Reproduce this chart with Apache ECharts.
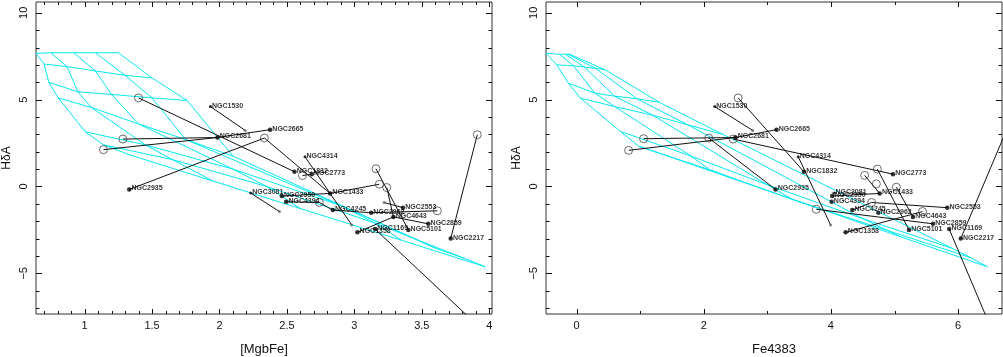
<!DOCTYPE html>
<html><head><meta charset="utf-8">
<script src="https://cdn.jsdelivr.net/npm/echarts@6/dist/echarts.min.js"></script>
<style>html,body{margin:0;padding:0;background:#fff}#c{width:1003px;height:357px}</style>
</head><body><div id="c"></div>
<script>
// ---------------- DATA ----------------
const galaxyNames  = ['NGC1530','NGC2665','NGC2681','NGC2935','NGC4314','NGC1832','NGC2773','NGC3081','NGC2950','NGC4394','NGC1433','NGC4245','NGC2962','NGC2553','NGC4643','NGC2859','NGC1169','NGC5101','NGC1358','NGC2217'];
const galaxyMgbFe  = [1.933, 2.375, 1.985, 1.331, 2.634, 2.556, 2.684, 2.232, 2.462, 2.494, 2.82, 2.84, 3.124, 3.36, 3.289, 3.548, 3.153, 3.40, 3.022, 3.714];
const galaxyFe4383 = [2.173, 3.145, 2.499, 3.129, 3.486, 3.575, 4.976, 4.047, 4.02, 4.011, 4.766, 4.336, 4.745, 5.83, 5.29, 5.606, 5.86, 5.228, 4.231, 6.042];
const galaxyHdA    = [4.6, 3.27, 2.82, -0.17, 1.71, 0.85, 0.71, -0.38, -0.55, -0.88, -0.40, -1.36, -1.51, -1.22, -1.75, -2.15, -2.45, -2.5, -2.64, -3.0];
const smallGalaxies = ['NGC1530','NGC4314','NGC3081'];

// open circles and small end points [x, HdA]
const circlesLeft  = [[1.40,5.10],[1.284,2.73],[1.14,2.12],[2.333,2.79],[2.615,0.63],[2.74,-0.92],[3.16,1.02],[3.185,0.13],[3.24,-0.06],[3.615,-1.40],[3.911,2.98]];
const smallLeft    = [[2.19,3.23],[2.98,-2.21],[2.444,-1.44],[3.22,-0.92]];
const circlesRight = [[2.541,5.1],[1.055,2.75],[0.819,2.08],[2.079,2.79],[2.462,2.73],[4.73,1.0],[4.53,0.64],[4.714,0.15],[5.029,-0.04],[3.769,-1.31],[4.64,-0.92],[5.44,-1.44]];
const smallRight   = [[2.77,3.23],[3.995,-2.21]];

// connecting segments [x1, y1, x2, y2]
const segmentsLeft = [
  [1.933,4.6, 2.19,3.23],[1.284,2.73, 1.985,2.82],[1.985,2.82, 2.375,3.27],[1.14,2.12, 1.985,2.82],
  [1.40,5.10, 2.556,0.85],[1.331,-0.17, 2.333,2.79],[2.333,2.79, 2.82,-0.40],[2.634,1.71, 2.98,-2.21],
  [2.232,-0.38, 2.444,-1.44],[2.462,-0.55, 2.82,-0.40],[2.82,-0.40, 3.185,0.13],[2.494,-0.88, 2.74,-0.92],
  [2.74,-0.92, 2.84,-1.36],[2.84,-1.36, 3.124,-1.51],[3.124,-1.51, 3.615,-1.40],[3.16,1.02, 3.40,-2.5],
  [3.24,-0.06, 3.289,-1.75],[3.022,-2.64, 3.289,-1.75],[3.289,-1.75, 3.548,-2.15],[3.153,-2.45, 3.9,-7.9],
  [3.714,-3.0, 3.911,2.98],[3.22,-0.92, 3.36,-1.22],[2.684,0.71, 2.615,0.63]
];
const segmentsRight = [
  [2.173,4.6, 2.77,3.23],[1.055,2.75, 2.499,2.82],[2.499,2.82, 3.145,3.27],[0.819,2.08, 2.499,2.82],
  [2.541,5.1, 3.575,0.85],[3.129,-0.17, 2.079,2.79],[2.462,2.73, 4.976,0.71],[3.486,1.71, 3.995,-2.21],
  [4.73,1.0, 5.228,-2.5],[4.53,0.64, 4.766,-0.40],[5.029,-0.04, 5.29,-1.75],[3.769,-1.31, 5.606,-2.15],
  [4.336,-1.36, 4.64,-0.92],[4.64,-0.92, 5.83,-1.22],[4.231,-2.64, 5.44,-1.44],[5.86,-2.45, 6.5,-8.0],
  [6.042,-3.0, 6.73,2.98],[4.02,-0.55, 4.766,-0.40]
];

// model grid: rows (age) x columns (metallicity)
const gridMgbFe = [
  [0.64, 0.75, 0.92, 1.08, 1.25],
  [0.70, 0.87, 1.08, 1.30, 1.50],
  [0.735,0.95, 1.20, 1.50, 1.76],
  [0.805,1.05, 1.40, 1.75, 2.10],
  [1.005,1.45, 2.10, 2.90, 3.60],
  [1.14, 1.65, 2.35, 3.15, 3.82],
  [1.33, 1.95, 2.60, 3.35, 3.97]
];
const gridHdALeft = [
  [7.66, 7.70, 7.70, 7.70, 7.70],
  [7.05, 6.90, 6.65, 6.40, 6.25],
  [6.00, 5.45, 5.30, 5.10, 4.95],
  [5.10, 4.55, 3.60, 2.70, 1.75],
  [3.15, 2.40, 1.00, -1.10, -3.55],
  [2.40, 1.55, 0.00, -2.10, -4.15],
  [1.83, 0.32, -1.27, -3.10, -4.62]
];
const gridFe4383 = [
  [-0.48, -0.26, -0.18, -0.14, -0.10],
  [-0.31, -0.05, 0.12, 0.30, 0.45],
  [-0.13, 0.29, 0.60, 0.95, 1.30],
  [0.06, 0.60, 1.20, 1.75, 2.30],
  [0.69, 1.80, 3.00, 4.50, 5.90],
  [0.98, 2.10, 3.40, 4.90, 6.20],
  [1.37, 2.50, 3.80, 5.10, 6.46]
];
const gridHdARight = [
  [7.68, 7.60, 7.62, 7.62, 7.60],
  [7.00, 6.95, 6.88, 6.80, 6.72],
  [5.95, 5.37, 5.20, 5.05, 4.85],
  [5.09, 4.60, 4.10, 3.55, 3.00],
  [3.17, 1.75, 0.10, -1.85, -3.55],
  [2.31, 0.95, -0.75, -2.55, -4.10],
  [1.83, 0.40, -1.25, -2.90, -4.62]
];

const yTicks = [-5, 0, 5, 10];
const xTicksLeft = [1, 1.5, 2, 2.5, 3, 3.5, 4];
const xTicksRight = [0, 2, 4, 6];

// ---------------- CHART ----------------
const CYAN = '#08e8f0';
const FONT = 'Liberation Sans, Arial, sans-serif';
const minus = v => (v < 0 ? '\u2212' + Math.abs(v) : String(v));
function range(a, b, s) { const r = []; for (let v = a; v <= b + 1e-9; v += s) r.push(Math.round(v * 100) / 100); return r; }
const yMinor = range(-7, 10, 1).filter(v => v % 5 !== 0);
const xMinorLeft = range(0.7, 4.0, 0.1).filter(v => Math.abs(v * 2 - Math.round(v * 2)) > 1e-6);
const xMinorRight = [1, 3, 5];

const rects = [
  { left: 36, top: 2, width: 456, height: 312 },
  { left: 546, top: 2, width: 456, height: 312 }
];
const xRanges = [[0.64, 4.02], [-0.48, 6.69]];
const yRange = [-7.34, 10.62];
const xNames = ['[MgbFe]', 'Fe4383'];
const xMajors = [xTicksLeft, xTicksRight];
const xMinors = [xMinorLeft, xMinorRight];

const xAxes = [], yAxes = [];
for (let g = 0; g < 2; g++) {
  xAxes.push({
    type: 'value', gridIndex: g, min: xRanges[g][0], max: xRanges[g][1], position: 'bottom',
    splitLine: { show: false }, axisLine: { show: false, onZero: false }, axisTick: { show: false },
    name: xNames[g], nameLocation: 'middle', nameGap: 29,
    nameTextStyle: { fontSize: 13, color: '#111', fontFamily: FONT },
    axisLabel: { show: true, customValues: xMajors[g], margin: 6, fontSize: 11, color: '#111', fontFamily: FONT, formatter: minus }
  });
  yAxes.push({
    type: 'value', gridIndex: g, min: yRange[0], max: yRange[1], position: 'left',
    splitLine: { show: false }, axisLine: { show: false, onZero: false }, axisTick: { show: false },
    name: 'H\u03b4A', nameLocation: 'middle', nameGap: 23, nameRotate: 90,
    nameTextStyle: { fontSize: 12, color: '#111', fontFamily: FONT },
    axisLabel: { show: true, customValues: yTicks, rotate: 90, margin: 7, fontSize: 11, color: '#111', fontFamily: FONT, formatter: minus }
  });
}

const series = [];
function lineSeries(g, pts, color, width) {
  series.push({ type: 'line', xAxisIndex: g, yAxisIndex: g, data: pts, symbol: 'none', silent: true,
    lineStyle: { color: color, width: width }, clip: true, animation: false, z: color === CYAN ? 1 : 3 });
}
function meshSeries(g, X, Y) {
  const R = X.length, C = X[0].length;
  for (let r = 0; r < R; r++) lineSeries(g, X[r].map((x, c) => [x, Y[r][c]]), CYAN, 1);
  for (let c = 0; c < C; c++) lineSeries(g, X.map((row, r) => [row[c], Y[r][c]]), CYAN, 1);
}
meshSeries(0, gridMgbFe, gridHdALeft);
meshSeries(1, gridFe4383, gridHdARight);
segmentsLeft.forEach(s => lineSeries(0, [[s[0], s[1]], [s[2], s[3]]], '#111', 1));
segmentsRight.forEach(s => lineSeries(1, [[s[0], s[1]], [s[2], s[3]]], '#111', 1));

function scatter(g, pts, opts) {
  series.push(Object.assign({ type: 'scatter', xAxisIndex: g, yAxisIndex: g, data: pts, animation: false, silent: true, clip: true, z: 4 }, opts));
}
scatter(0, circlesLeft, { symbolSize: 8, itemStyle: { color: 'rgba(0,0,0,0)', borderColor: '#333', borderWidth: 0.9 } });
scatter(1, circlesRight, { symbolSize: 8, itemStyle: { color: 'rgba(0,0,0,0)', borderColor: '#333', borderWidth: 0.9 } });
scatter(0, smallLeft, { symbolSize: 3, itemStyle: { color: '#666' } });
scatter(1, smallRight, { symbolSize: 3, itemStyle: { color: '#666' } });

const xs = [galaxyMgbFe, galaxyFe4383];
for (let g = 0; g < 2; g++) {
  const pts = galaxyNames.map((n, i) => ({ name: n, value: [xs[g][i], galaxyHdA[i]],
    symbolSize: smallGalaxies.includes(n) ? 3 : 4.5 }));
  scatter(g, pts, { itemStyle: { color: '#000' }, z: 5,
    label: { show: true, position: 'right', distance: 0, offset: [0, -1], formatter: p => p.name, fontSize: 7, fontWeight: 'bold', color: '#000', fontFamily: FONT } });
}

const chart = echarts.init(document.getElementById('c'), null, { renderer: 'canvas' });
chart.setOption({
  backgroundColor: '#fff',
  animation: false,
  grid: rects.map(r => Object.assign({ show: true, borderColor: '#333', borderWidth: 1, backgroundColor: 'transparent', containLabel: false, outerBoundsMode: 'none' }, r)),
  xAxis: xAxes,
  yAxis: yAxes,
  series: series
});

// inward ticks on all four sides, positioned through the axes' own scales
function toPx(g, x, y) {
  let p = null;
  try { p = chart.convertToPixel({ gridIndex: g }, [x, y]); } catch (e) { p = null; }
  if (!p || !isFinite(p[0]) || !isFinite(p[1])) {
    try {
      const px = chart.convertToPixel({ xAxisIndex: g }, x);
      const py = chart.convertToPixel({ yAxisIndex: g }, y);
      p = [px, py];
    } catch (e) { p = null; }
  }
  if (!p || !isFinite(p[0]) || !isFinite(p[1])) {
    const r = rects[g];
    p = [r.left + (x - xRanges[g][0]) / (xRanges[g][1] - xRanges[g][0]) * r.width,
         r.top + (yRange[1] - y) / (yRange[1] - yRange[0]) * r.height];
  }
  return p;
}
const tickEls = [];
const TS = { stroke: '#111', lineWidth: 1, fill: null };
let k = 0;
for (let g = 0; g < 2; g++) {
  const pb = toPx(g, xRanges[g][0], yRange[0]);
  const pt = toPx(g, xRanges[g][1], yRange[1]);
  const yb = pb[1], ytop = pt[1], xl = pb[0], xr = pt[0];
  const addX = (v, len) => {
    const x = Math.round(toPx(g, v, 0)[0]) + 0.5;
    tickEls.push({ id: 't' + (k++), type: 'line', shape: { x1: x, y1: yb, x2: x, y2: yb - len }, style: TS, silent: true, z: 100 });
    tickEls.push({ id: 't' + (k++), type: 'line', shape: { x1: x, y1: ytop, x2: x, y2: ytop + len }, style: TS, silent: true, z: 100 });
  };
  const addY = (v, len) => {
    const y = Math.round(toPx(g, xRanges[g][0], v)[1]) + 0.5;
    tickEls.push({ id: 't' + (k++), type: 'line', shape: { x1: xl, y1: y, x2: xl + len, y2: y }, style: TS, silent: true, z: 100 });
    tickEls.push({ id: 't' + (k++), type: 'line', shape: { x1: xr, y1: y, x2: xr - len, y2: y }, style: TS, silent: true, z: 100 });
  };
  xMajors[g].forEach(v => addX(v, 5));
  xMinors[g].forEach(v => addX(v, 3));
  yTicks.forEach(v => addY(v, 6));
  yMinor.forEach(v => addY(v, 3.5));
}
chart.setOption({ graphic: { elements: tickEls } });
</script></body></html>
